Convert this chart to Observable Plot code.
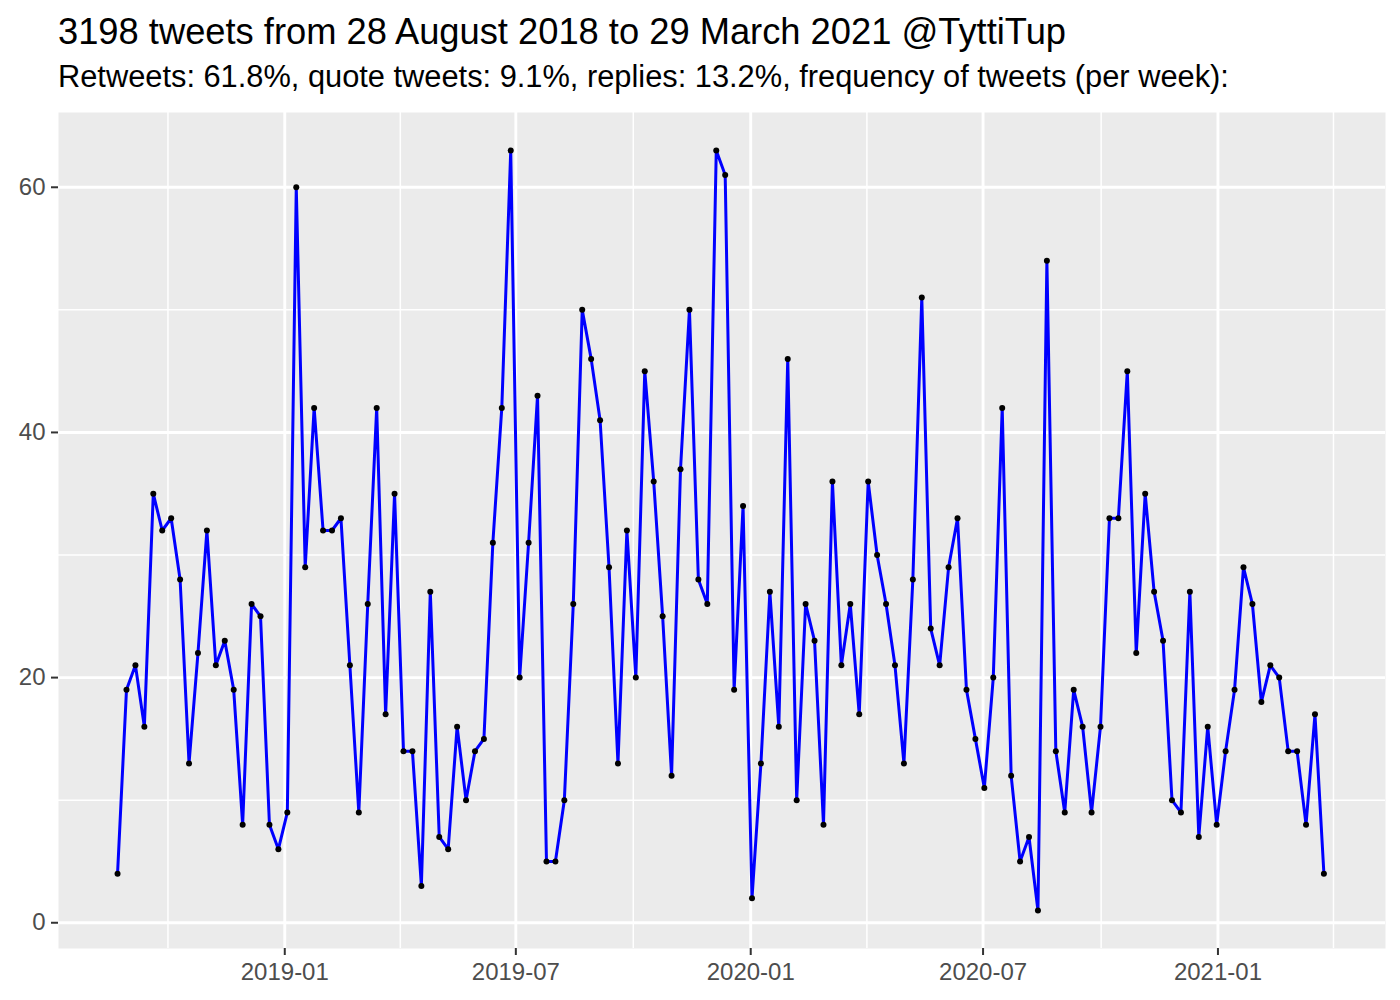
<!DOCTYPE html>
<html>
<head>
<meta charset="utf-8">
<script src="https://cdn.jsdelivr.net/npm/d3@7"></script>
<script src="https://cdn.jsdelivr.net/npm/@observablehq/plot@0.6"></script>
<style>
  html, body { margin: 0; padding: 0; background: #ffffff; }
  body { width: 1400px; height: 1000px; position: relative; overflow: hidden;
         font-family: "Liberation Sans", Arial, Helvetica, sans-serif; }
  #title { position: absolute; left: 58px; top: 13.5px; font-size: 36.3px; line-height: 1; color: #000; white-space: nowrap; }
  #subtitle { position: absolute; left: 58px; top: 62px; font-size: 30.8px; line-height: 1; color: #000; white-space: nowrap; }
  #chart { position: absolute; left: 0; top: 100px; }
</style>
</head>
<body>
<div id="title">3198 tweets from 28 August 2018 to 29 March 2021 @TyttiTup</div>
<div id="subtitle">Retweets: 61.8%, quote tweets: 9.1%, replies: 13.2%, frequency of tweets (per week):</div>
<div id="chart"></div>
<script>
// Weekly tweet counts (136 weeks)
const firstWeek = "2018-08-23";
const weeklyCounts = [
  4, 19, 21, 16, 35, 32, 33, 28, 13, 22, 32, 21, 23, 19, 8, 26, 25, 8, 6, 9,
  60, 29, 42, 32, 32, 33, 21, 9, 26, 42, 17, 35, 14, 14, 3, 27, 7, 6, 16, 10,
  14, 15, 31, 42, 63, 20, 31, 43, 5, 5, 10, 26, 50, 46, 41, 29, 13, 32, 20, 45,
  36, 25, 12, 37, 50, 28, 26, 63, 61, 19, 34, 2, 13, 27, 16, 46, 10, 26, 23, 8,
  36, 21, 26, 17, 36, 30, 26, 21, 13, 28, 51, 24, 21, 29, 33, 19, 15, 11, 20, 42,
  12, 5, 7, 1, 54, 14, 9, 19, 16, 9, 16, 33, 33, 45, 22, 35, 27, 23, 10, 9,
  27, 7, 16, 8, 14, 19, 29, 26, 18, 21, 20, 14, 14, 8, 17, 4
];

// Axis ticks
const xMajorTicks = ["2019-01-01", "2019-07-01", "2020-01-01", "2020-07-01", "2021-01-01"];
const xMinorTicks = ["2018-10-01T12:00", "2019-04-01T12:00", "2019-10-01", "2020-04-01", "2020-10-01T12:00", "2021-04-01T12:00"];
const yMajorTicks = [0, 20, 40, 60];
const yMinorTicks = [10, 30, 50];

const parse = s => new Date(s.length > 10 ? s + ":00Z" : s + "T00:00:00Z");
const start = parse(firstWeek);
const data = weeklyCounts.map((n, i) => ({ date: d3.utcDay.offset(start, 7 * i), count: n }));

const xDomain = [parse("2018-07-07T18:00"), parse("2021-05-12T06:00")];

const chart = Plot.plot({
  width: 1400,
  height: 900,
  marginLeft: 58,
  marginRight: 15,
  marginTop: 12,
  marginBottom: 52,
  style: { fontFamily: "'Liberation Sans', Arial, Helvetica, sans-serif", background: "transparent", overflow: "visible" },
  x: { type: "utc", domain: xDomain },
  y: { domain: [-2.1, 66.1] },
  marks: [
    Plot.frame({ fill: "#ebebeb", stroke: "none" }),
    Plot.gridY(yMinorTicks, { stroke: "#ffffff", strokeOpacity: 1, strokeWidth: 1.5 }),
    Plot.gridX(xMinorTicks.map(parse), { stroke: "#ffffff", strokeOpacity: 1, strokeWidth: 1.5 }),
    Plot.gridY(yMajorTicks, { stroke: "#ffffff", strokeOpacity: 1, strokeWidth: 2.9 }),
    Plot.gridX(xMajorTicks.map(parse), { stroke: "#ffffff", strokeOpacity: 1, strokeWidth: 2.9 }),
    Plot.axisY(yMajorTicks, { tickSize: 7, tickPadding: 6, fontSize: 24, stroke: "#333333", strokeWidth: 2, fill: "#4d4d4d", label: null }),
    Plot.axisX(xMajorTicks.map(parse), { tickSize: 7, tickPadding: 7, fontSize: 24, stroke: "#333333", strokeWidth: 2, fill: "#4d4d4d", label: null, tickFormat: d3.utcFormat("%Y-%m") }),
    Plot.line(data, { x: "date", y: "count", stroke: "#0000ff", strokeWidth: 3 }),
    Plot.dot(data, { x: "date", y: "count", r: 3, fill: "#000000", stroke: "none" })
  ]
});
document.getElementById("chart").appendChild(chart);
</script>
</body>
</html>
